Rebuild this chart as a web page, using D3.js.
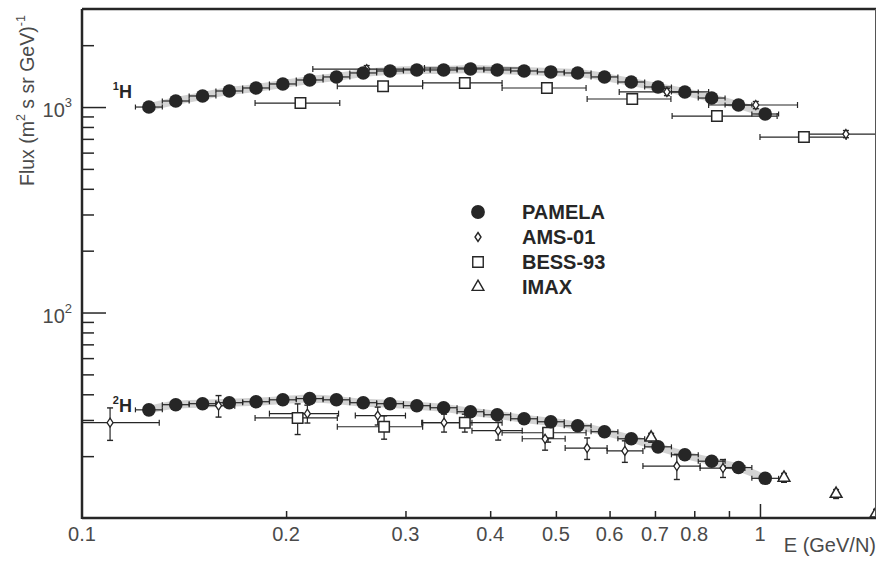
<!DOCTYPE html>
<html>
<head>
<meta charset="utf-8">
<script src="https://cdn.jsdelivr.net/npm/d3@7"></script>
<style>
  body { margin: 0; background: #fff; }
  svg { display: block; font-family: "Liberation Sans", Arial, sans-serif; }
</style>
</head>
<body>
<div id="container"></div>
<script>
// PAMELA (shared energy bins for 1H and 2H)
const pamelaE = [0.1255, 0.1375, 0.1506, 0.1649, 0.1806, 0.1978, 0.2167, 0.2373, 0.2599, 0.2847, 0.3118, 0.3415,
  0.3741, 0.4097, 0.4488, 0.4915, 0.5384, 0.5897, 0.6459, 0.7074, 0.7748, 0.8487, 0.9296, 1.018];
const pamelaH = [1000, 1070, 1132, 1197, 1238, 1295, 1354, 1401, 1465, 1498, 1515, 1515,
  1532, 1515, 1498, 1482, 1465, 1401, 1324, 1252, 1184, 1106, 1023, 925];
const pamelaD = [33.6, 35.6, 36.0, 36.4, 36.8, 37.6, 38.1, 37.6, 36.4, 36.0, 35.2, 34.4,
  32.9, 31.8, 30.4, 29.4, 28.1, 26.3, 24.3, 22.2, 20.3, 18.9, 17.6, 15.6];

// BESS-93
const bessHE = [0.210, 0.278, 0.367, 0.485, 0.648, 0.864, 1.161];
const bessHLo = [0.180, 0.238, 0.318, 0.4165, 0.556, 0.742, 1.0];
const bessHHi = [0.240, 0.318, 0.4165, 0.554, 0.739, 1.06, 1.34];
const bessH = [1046, 1264, 1310, 1238, 1094, 904, 714];
const bessDE = [0.208, 0.279, 0.367, 0.487];
const bessDLo = [0.180, 0.238, 0.318, 0.4165];
const bessDHi = [0.238, 0.318, 0.4165, 0.554];
const bessD = [30.7, 27.8, 29.1, 26.0];
const bessDErr = [0.17, 0.13, 0.1, 0.1];

// AMS-01
const amsHE = [0.263, 0.376, 0.729, 0.986, 1.339];
const amsHLo = [0.219, 0.32, 0.62, 0.84, 1.161];
const amsHHi = [0.32, 0.45, 0.84, 1.136, 1.6];
const amsH = [1530, 1549, 1184, 1023, 739];
const amsDE = [0.110, 0.159, 0.215, 0.273, 0.342, 0.411, 0.482, 0.556, 0.632, 0.754, 0.882];
const amsDLo = [0.1, 0.152, 0.189, 0.253, 0.317, 0.376, 0.446, 0.516, 0.595, 0.672, 0.816];
const amsDHi = [0.130, 0.168, 0.239, 0.300, 0.376, 0.446, 0.516, 0.595, 0.672, 0.816, 0.950];
const amsD = [29.1, 35.2, 32.2, 31.5, 29.1, 26.6, 24.3, 21.9, 21.2, 17.9, 17.5];
const amsDErr = [0.18, 0.12, 0.1, 0.1, 0.1, 0.1, 0.12, 0.12, 0.12, 0.14, 0.1];

// IMAX
const imaxDE = [0.691, 1.085, 1.295, 1.483];
const imaxD = [24.6, 15.7, 13.1, 10.5];

// ticks
const xMinor = [0.2, 0.3, 0.4, 0.5, 0.6, 0.7, 0.8, 0.9];
const xLabels = [0.1, 0.2, 0.3, 0.4, 0.5, 0.6, 0.7, 0.8, 1];
const yMinor = [20, 30, 40, 50, 60, 70, 80, 90, 200, 300, 400, 500, 600, 700, 800, 900, 2000];
const yMajor = [100, 1000];

const W = 877, H = 563;
const margin = { top: 9, right: 1, bottom: 45, left: 82 };
const ink = "#262626", txt = "#4a4a4a";

const svg = d3.select("#container").append("svg").attr("width", W).attr("height", H);

const x = d3.scaleLog().domain([0.1, 1.483]).range([margin.left, W - margin.right]);
const y = d3.scaleLog().domain([10, 3000]).range([H - margin.bottom, margin.top]);

svg.append("defs").append("clipPath").attr("id", "clip")
  .append("rect").attr("x", x.range()[0]).attr("y", y.range()[1])
  .attr("width", x.range()[1] - x.range()[0]).attr("height", y.range()[0] - y.range()[1]);

const plot = svg.append("g").attr("clip-path", "url(#clip)");

// PAMELA bin edges from neighbouring points (geometric midpoints)
function edges(e) {
  const mids = [];
  for (let i = 0; i < e.length - 1; i++) mids.push(Math.sqrt(e[i] * e[i + 1]));
  const lo = [e[0] * e[0] / mids[0]].concat(mids);
  const hi = mids.concat([e[e.length - 1] * e[e.length - 1] / mids[mids.length - 1]]);
  return { lo, hi };
}
const pb = edges(pamelaE);

// systematic band
[pamelaH, pamelaD].forEach(vals => {
  const pts = pamelaE.map((e, i) => ({ e, v: vals[i] }));
  plot.append("path").datum(pts)
    .attr("fill", "#c8c8c8").attr("opacity", 0.8)
    .attr("d", d3.area().curve(d3.curveMonotoneX)
      .x(d => x(d.e)).y0(d => y(d.v * 0.955)).y1(d => y(d.v * 1.045)));
});

function hbars(g, E, lo, hi, V, cap) {
  E.forEach((e, i) => {
    g.append("line").attr("x1", x(lo[i])).attr("x2", x(hi[i]))
      .attr("y1", y(V[i])).attr("y2", y(V[i]))
      .attr("stroke", ink).attr("stroke-width", 1.2);
    [lo[i], hi[i]].forEach(b => {
      g.append("line").attr("x1", x(b)).attr("x2", x(b))
        .attr("y1", y(V[i]) - cap).attr("y2", y(V[i]) + cap)
        .attr("stroke", ink).attr("stroke-width", 1.2);
    });
  });
}
function vbars(g, E, V, rel) {
  E.forEach((e, i) => {
    const r = rel[i];
    const y1 = y(V[i] * (1 + r)), y2 = y(V[i] * (1 - r));
    g.append("line").attr("x1", x(e)).attr("x2", x(e)).attr("y1", y1).attr("y2", y2)
      .attr("stroke", ink).attr("stroke-width", 1.2);
    [y1, y2].forEach(yy => {
      g.append("line").attr("x1", x(e) - 3).attr("x2", x(e) + 3).attr("y1", yy).attr("y2", yy)
        .attr("stroke", ink).attr("stroke-width", 1.4);
    });
  });
}

// PAMELA bin bars
hbars(plot, pamelaE, pb.lo, pb.hi, pamelaH, 2.5);
hbars(plot, pamelaE, pb.lo, pb.hi, pamelaD, 2.5);

// BESS, AMS, IMAX error bars
hbars(plot, bessHE, bessHLo, bessHHi, bessH, 3);
hbars(plot, bessDE, bessDLo, bessDHi, bessD, 3);
vbars(plot, bessDE, bessD, bessDErr);
hbars(plot, amsHE, amsHLo, amsHHi, amsH, 3);
vbars(plot, amsHE, amsH, amsHE.map(() => 0.04));
hbars(plot, amsDE, amsDLo, amsDHi, amsD, 3);
vbars(plot, amsDE, amsD, amsDErr);
vbars(plot, imaxDE, imaxD, imaxD.map(() => 0.05));

const diamond = d3.symbol().type({ draw(ctx) { ctx.moveTo(0, -4.5); ctx.lineTo(3, 0); ctx.lineTo(0, 4.5); ctx.lineTo(-3, 0); ctx.closePath(); } });
const square = d3.symbol().type(d3.symbolSquare).size(110);
const triangle = d3.symbol().type(d3.symbolTriangle).size(60);

function markers(g, E, V, sym, opts) {
  g.selectAll(null).data(E.map((e, i) => [e, V[i]])).join("path")
    .attr("transform", d => `translate(${x(d[0])},${y(d[1])})`)
    .attr("d", sym)
    .attr("fill", opts.fill).attr("stroke", ink).attr("stroke-width", opts.sw);
}

markers(plot, bessHE, bessH, square, { fill: "#fff", sw: 1.5 });
markers(plot, bessDE, bessD, square, { fill: "#fff", sw: 1.5 });
markers(plot, amsHE, amsH, diamond, { fill: "#fff", sw: 1.3 });
markers(plot, amsDE, amsD, diamond, { fill: "#fff", sw: 1.3 });
markers(plot, imaxDE, imaxD, triangle, { fill: "#fff", sw: 1.5 });

[pamelaH, pamelaD].forEach(vals => {
  plot.selectAll(null).data(pamelaE.map((e, i) => [e, vals[i]])).join("circle")
    .attr("cx", d => x(d[0])).attr("cy", d => y(d[1])).attr("r", 6.8)
    .attr("fill", ink);
});

// frame
const [x0, x1] = x.range(), [y0, y1] = y.range();
svg.append("line").attr("x1", x0).attr("x2", x1).attr("y1", y1).attr("y2", y1).attr("stroke", ink).attr("stroke-width", 2.5);
svg.append("line").attr("x1", x1 - 0.5).attr("x2", x1 - 0.5).attr("y1", y1).attr("y2", y0).attr("stroke", "#555").attr("stroke-width", 1);

// axes
const axStyle = g => {
  g.select(".domain").remove();
  g.selectAll(".tick line").attr("stroke", ink).attr("stroke-width", 1.5);
  g.selectAll("text").remove();
};
svg.append("g").attr("transform", `translate(${x0},0)`)
  .call(d3.axisLeft(y).tickValues(yMinor).tickSize(-12)).call(axStyle);
svg.append("g").attr("transform", `translate(${x0},0)`)
  .call(d3.axisLeft(y).tickValues(yMajor).tickSize(-24)).call(axStyle);
svg.append("g").attr("transform", `translate(0,${y0})`)
  .call(d3.axisBottom(x).tickValues(xMinor).tickSize(-7)).call(axStyle);
svg.append("g").attr("transform", `translate(0,${y0})`)
  .call(d3.axisBottom(x).tickValues([1]).tickSize(-14)).call(axStyle);

svg.append("line").attr("x1", x0).attr("x2", x0).attr("y1", y1).attr("y2", y0 + 1).attr("stroke", ink).attr("stroke-width", 2.5);
svg.append("line").attr("x1", x0).attr("x2", x1).attr("y1", y0).attr("y2", y0).attr("stroke", ink).attr("stroke-width", 2.5);

// tick labels
svg.append("g").selectAll("text").data(xLabels).join("text")
  .attr("x", d => x(d)).attr("y", y0 + 23)
  .attr("text-anchor", "middle").attr("font-size", 20).attr("fill", txt)
  .text(d => d3.format("")(d));

svg.append("g").selectAll("text").data(yMajor).join("text")
  .attr("x", x0 - 10).attr("y", d => y(d) + 10)
  .attr("text-anchor", "end").attr("font-size", 20).attr("fill", txt)
  .each(function (d) {
    const t = d3.select(this);
    t.append("tspan").text("10");
    t.append("tspan").attr("font-size", 13).attr("dy", -10).text(Math.round(Math.log10(d)));
  });

// axis titles
const yt = svg.append("text").attr("transform", `translate(34,186) rotate(-90)`)
  .attr("font-size", 19.5).attr("fill", txt);
yt.append("tspan").text("Flux (m");
yt.append("tspan").attr("font-size", 12.5).attr("dy", -9).text("2");
yt.append("tspan").attr("dy", 9).text(" s sr GeV)");
yt.append("tspan").attr("font-size", 12.5).attr("dy", -9).text("-1");

svg.append("text").attr("x", W - 1).attr("y", 552).attr("text-anchor", "end")
  .attr("font-size", 20).attr("fill", txt).text("E (GeV/N)");

// isotope labels
function isoLabel(sup, e, v, dy) {
  const t = svg.append("text").attr("x", x(e) - 17).attr("y", y(v) + dy)
    .attr("text-anchor", "end").attr("font-size", 18).attr("font-weight", "bold").attr("fill", ink);
  t.append("tspan").attr("font-size", 11).attr("dy", -8).text(sup);
  t.append("tspan").attr("dy", 8).text("H");
}
isoLabel("1", pamelaE[0], pamelaH[0], -9);
isoLabel("2", pamelaE[0], pamelaD[0], 2);

// legend
const legendNames = ["PAMELA", "AMS-01", "BESS-93", "IMAX"];
const legendSyms = [d3.symbol().type(d3.symbolCircle).size(150), diamond, square, triangle];
const lg = svg.append("g").attr("transform", "translate(478,212)");
legendNames.forEach((n, i) => {
  const row = lg.append("g").attr("transform", `translate(0,${i * 25})`);
  row.append("path").attr("d", legendSyms[i])
    .attr("fill", i === 0 ? ink : "#fff").attr("stroke", ink).attr("stroke-width", i === 0 ? 0 : 1.4);
  row.append("text").attr("x", 44).attr("y", 7).attr("font-size", 20)
    .attr("font-weight", "bold").attr("fill", ink).text(n);
});
</script>
</body>
</html>
